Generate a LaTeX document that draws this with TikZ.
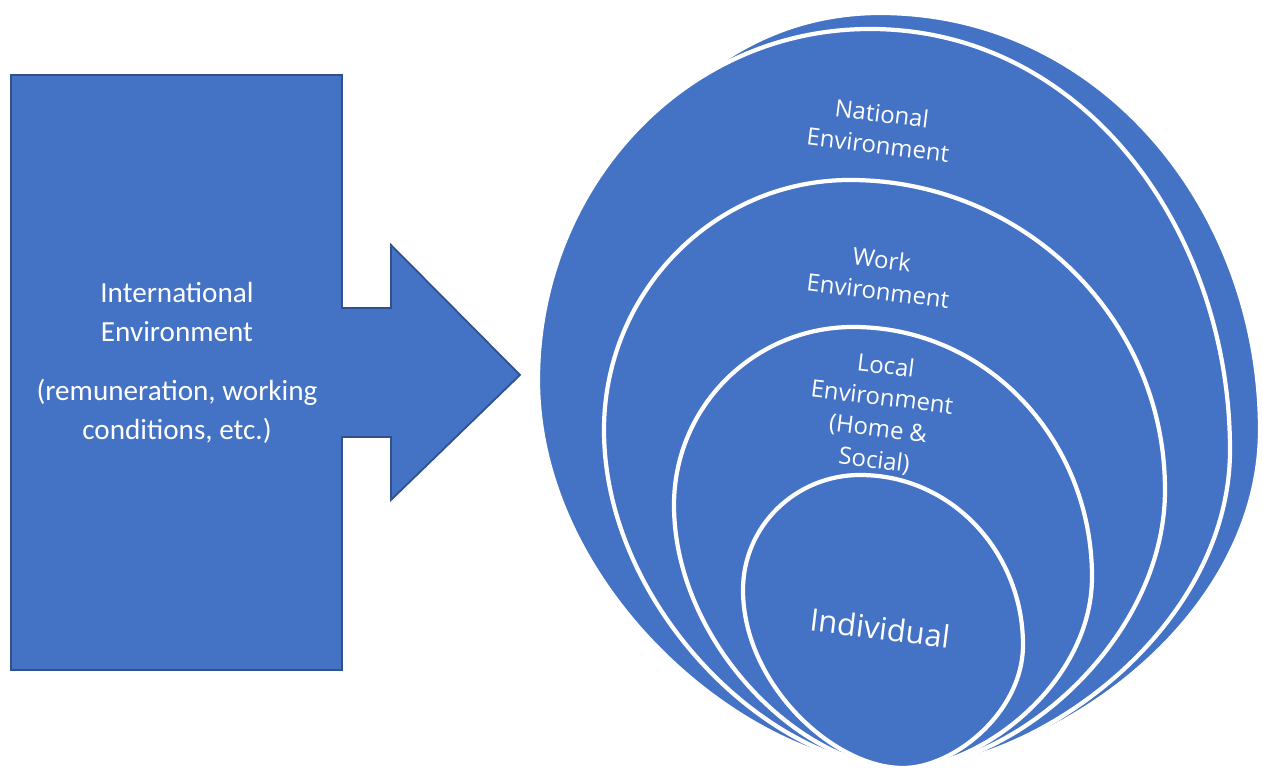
\documentclass[tikz,border=0pt]{standalone}
\usepackage{fontspec}
\setmainfont{Carlito}
\newfontfamily\ringfont{Open Sans}
\usepackage{xcolor}
\usepackage{tikz}
\usetikzlibrary{shapes,arrows}

\definecolor{ringblue}{HTML}{4472C4}
\definecolor{edgeblue}{HTML}{2F528F}

\begin{document}
\begin{tikzpicture}[scale = 1,
  block/.style = {fill = ringblue, draw = edgeblue, line width = 0.5pt, line join = miter},
  ring/.style = {fill = ringblue, draw = white, line width = 1.2pt},
  tobot/.style = {out = -90, in = 0, in looseness = 0.75},
  frombot/.style = {out = 180, in = -90, out looseness = 0.75},
  blocktext/.style = {text = white, align = center, font = \fontsize{8.3}{11}\selectfont},
  ringtext/.style = {text = white, align = center, rotate = -7, font = \ringfont\fontsize{6.8}{9}\selectfont}]

\useasboundingbox (0,0) rectangle (12.63,7.71);

\filldraw [block] (0.11,6.96) -- (3.42,6.96) -- (3.42,4.63) -- (3.91,4.63) -- (3.91,5.26) -- (5.20,3.96)
  -- (3.91,2.71) -- (3.91,3.34) -- (3.42,3.34) -- (3.42,1.01) -- (0.11,1.01) -- cycle;

\coordinate (bot) at (9.03,0.03);

\filldraw [ring] (8.80,7.58) to[out=0,in=90] (12.60,3.41) to[tobot] (bot)
  to[frombot] (5.60,3.71) to[out=90,in=180] (8.80,7.58) -- cycle;
\filldraw [ring] (8.70,7.42) to[out=0,in=90] (12.30,3.21) to[tobot] (bot)
  to[frombot] (5.38,3.91) to[out=90,in=180] (8.70,7.42) -- cycle;
\filldraw [ring] (8.50,5.91) to[out=0,in=90] (11.65,2.81) to[tobot] (bot)
  to[frombot] (6.04,3.41) to[out=90,in=180] (8.50,5.91) -- cycle;
\filldraw [ring] (8.53,4.44) to[out=0,in=90] (10.92,1.94) to[tobot] (bot)
  to[frombot] (6.74,2.66) to[out=90,in=180] (8.53,4.44) -- cycle;
\filldraw [ring] (8.60,2.96) to[out=0,in=90] (10.23,1.26) to[tobot] (bot)
  to[frombot] (7.43,1.81) to[out=90,in=180] (8.60,2.96) -- cycle;

\node[blocktext] (intl) at (1.77,4.08) {International\\Environment\\[6pt](remuneration, working\\conditions, etc.)};

\node[ringtext] (national) at (8.80,6.42) {National\\Environment};
\node[ringtext] (work) at (8.80,4.96) {Work\\Environment};
\node[ringtext] (local) at (8.80,3.57) {Local\\Environment\\(Home \&\\Social)};
\node[ringtext, font = \ringfont\fontsize{8.8}{10}\selectfont] (individual) at (8.80,1.43) {Individual};

\end{tikzpicture}
\end{document}
